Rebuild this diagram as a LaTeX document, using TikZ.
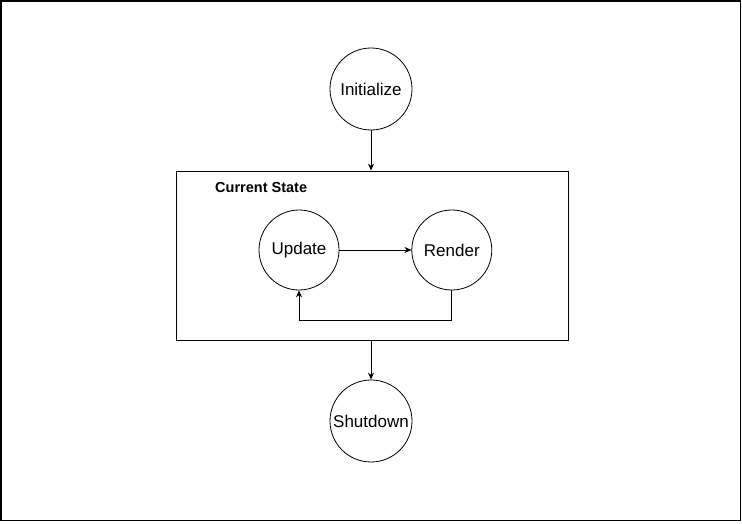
\documentclass[tikz,border=0pt]{standalone}
\usepackage{fontspec}
\setmainfont{Liberation Sans}
\usetikzlibrary{positioning,arrows.meta}

\tikzstyle{state} = [draw, circle, minimum size=80pt, inner sep=0pt, font=\fontsize{17}{20}\selectfont]
\tikzstyle{outer-state} = [state, minimum size=82pt]
\tikzstyle{container} = [draw, rectangle, minimum width=392pt, minimum height=169pt, inner sep=0pt]
\tikzstyle{flow} = [-{Stealth[length=7pt,width=6pt]}, line width=0.8pt]

\begin{document}
\begin{tikzpicture}[x=1pt, y=1pt, line width=0.8pt]
	\useasboundingbox (0,0) rectangle (742,524);
	\draw[line width=1.6pt] (0.8,3.5) rectangle (740.5,523.2);

	 \node [container] (current) at (372,268.5) {};
	 \node [anchor=west, font=\bfseries\fontsize{14.5}{17}\selectfont] (current-label) at (211.5,336) {Current State};
	 \node [state] (update) at (299,274) {Update};
	 \node [state, right=72pt of update] (render) {Render};
	 \node [outer-state] (init) at (371,435) {Initialize};
	 \node [outer-state] (shutdown) at (371,103) {Shutdown};

	\draw[flow] (init.south) -- (init.south |- current.north);
	\draw[flow] (update.east) -- (render.west);
	\draw[flow] (render.south) -- ++(0,-30) -| (update.south);
	\draw[flow] (shutdown.north |- current.south) -- (shutdown.north);

\end{tikzpicture}
\end{document}
